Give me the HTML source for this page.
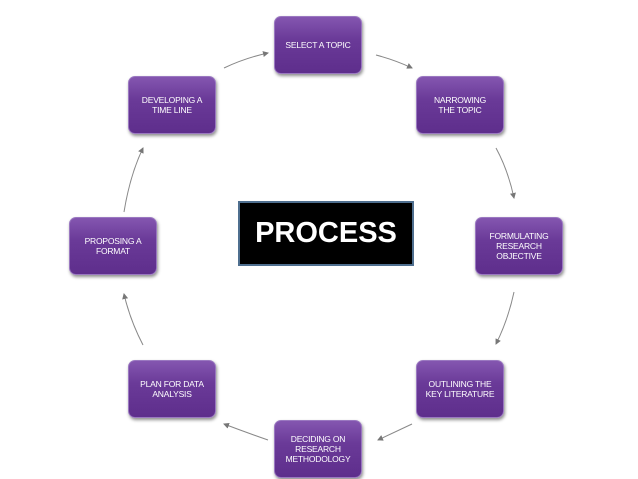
<!DOCTYPE html>
<html><head><style>
body{margin:0;width:638px;height:479px;background:#fff;position:relative;overflow:hidden;font-family:"Liberation Sans",sans-serif}
.b{position:absolute;width:88px;height:58px;border-radius:7px;background:linear-gradient(#8456b0,#6a3a98 40%,#5e2e8c);box-shadow:1px 2px 3px rgba(0,0,0,.45);color:#fff;font-size:8.5px;line-height:10px;display:flex;align-items:center;justify-content:center;text-align:center;letter-spacing:-0.2px;border:1px solid #9a78c0;box-sizing:border-box}
.p{position:absolute;left:238px;top:201px;width:176px;height:65px;background:#000;border:2px solid #4f6f8f;box-sizing:border-box;color:#fff;font-size:29px;font-weight:bold;display:flex;align-items:center;justify-content:center}
</style></head><body>
<svg width="638" height="479" style="position:absolute;left:0;top:0">
<defs><marker id="a" markerWidth="6" markerHeight="6" refX="5" refY="3" orient="auto"><path d="M0,0L6,3L0,6z" fill="#777"/></marker></defs>
<g fill="none" stroke="#888" stroke-width="1" marker-end="url(#a)">
<path d="M376,55 Q395,60 412,68"/>
<path d="M496,148 Q508,170 514,198"/>
<path d="M514,292 Q508,320 496,344"/>
<path d="M412,424 Q395,432 378,440"/>
<path d="M268,440 Q245,432 224,424"/>
<path d="M143,345 Q130,320 124,294"/>
<path d="M124,212 Q130,175 143,148"/>
<path d="M224,68 Q245,58 268,53"/>
</g></svg>
<div class="b" style="left:274px;top:16px">SELECT A TOPIC</div>
<div class="b" style="left:416px;top:76px">NARROWING<br>THE TOPIC</div>
<div class="b" style="left:475px;top:217px">FORMULATING<br>RESEARCH<br>OBJECTIVE</div>
<div class="b" style="left:416px;top:360px">OUTLINING THE<br>KEY LITERATURE</div>
<div class="b" style="left:274px;top:420px">DECIDING ON<br>RESEARCH<br>METHODOLOGY</div>
<div class="b" style="left:128px;top:360px">PLAN FOR DATA<br>ANALYSIS</div>
<div class="b" style="left:69px;top:217px">PROPOSING A<br>FORMAT</div>
<div class="b" style="left:128px;top:76px">DEVELOPING A<br>TIME LINE</div>
<div class="p">PROCESS</div>
</body></html>
